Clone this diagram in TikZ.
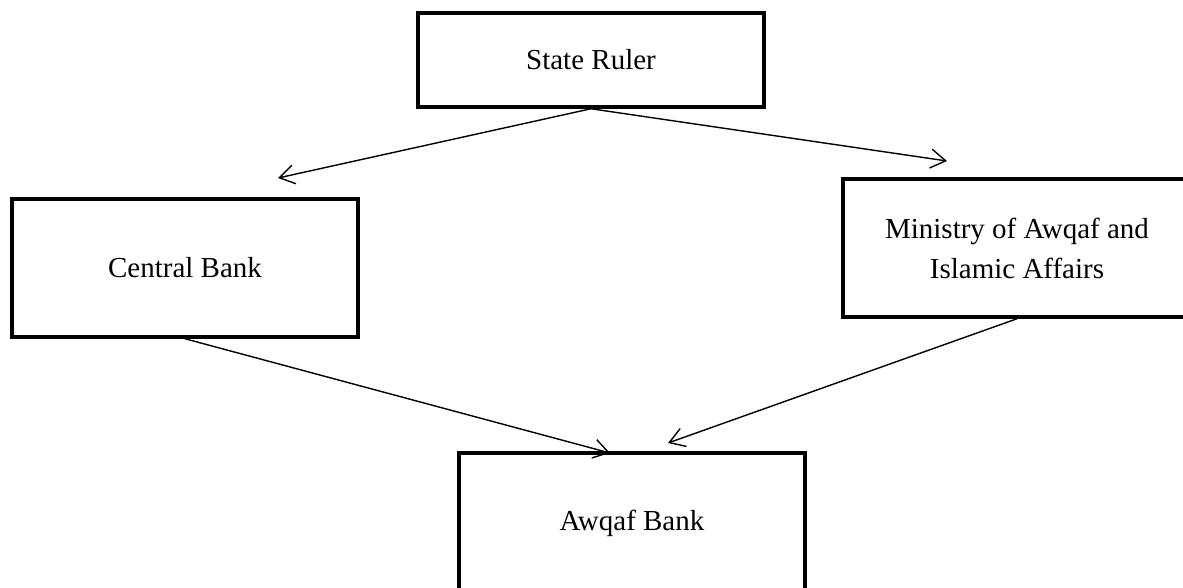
\documentclass[tikz,border=0pt]{standalone}
\usepackage{fontspec}
\setmainfont{Liberation Serif}
\usetikzlibrary{arrows.meta}

\begin{document}
\begin{tikzpicture}[x=0.02cm, y=-0.02cm,
	box/.style={draw, line width=2pt, minimum width=6.92cm, minimum height=2.76cm, align=center, inner sep=0pt, font=\fontsize{16.5}{22.8}\selectfont},
	link/.style={line width=0.8pt, -{Straight Barb[length=0.3cm, width=0.38cm, line width=0.8pt]}}]
	\useasboundingbox (0,0) rectangle (1183,588);
	\clip (0,0) rectangle (1183,588);
	\node[box, minimum height=1.88cm] (ruler) at (591,60) {State Ruler};
	\node[box] (central) at (185,268) {Central Bank};
	\node[box, minimum width=6.96cm] (ministry) at (1017,248) {Ministry of Awqaf and\\Islamic Affairs};
	\node[box, minimum height=2.8cm] (awqaf) at (632,523) {Awqaf Bank};
	%% free ends of the arrows
	\coordinate (tipcb) at (278,178);
	\coordinate (tipmin) at (947,161);
	\coordinate (tipab1) at (610,453);
	\coordinate (tipab2) at (668,443);
	\draw[link] (ruler.south) -- (tipcb);
	\draw[link] (ruler.south) -- (tipmin);
	\draw[link] (central.south) -- (tipab1);
	\draw[link] (ministry.south) -- (tipab2);
\end{tikzpicture}
\end{document}
